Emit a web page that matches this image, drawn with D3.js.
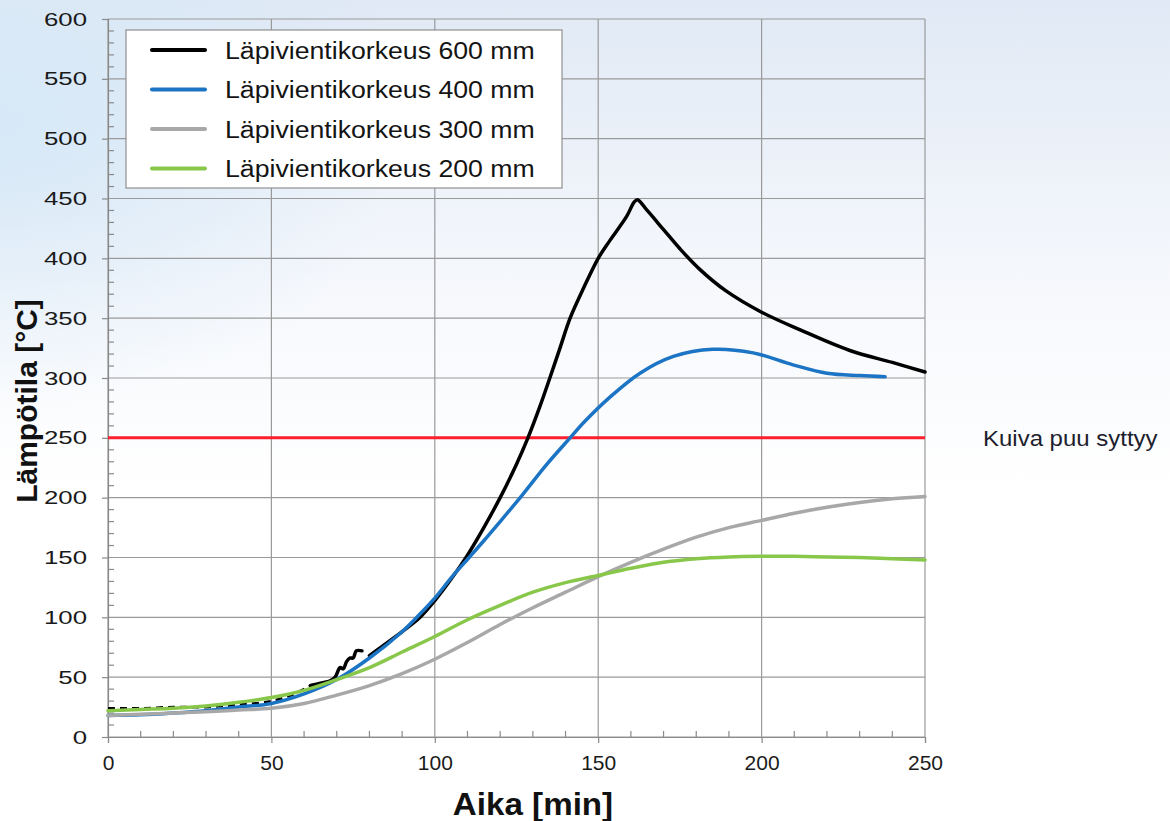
<!DOCTYPE html>
<html><head><meta charset="utf-8">
<script src="https://cdn.jsdelivr.net/npm/d3@7"></script>
<style>body{margin:0;background:#fff}svg{display:block}</style>
</head><body><svg id="c" width="1170" height="821"></svg>
<script>
// ---- data ----
const xTicks = [0, 50, 100, 150, 200, 250];
const yTicks = [0, 50, 100, 150, 200, 250, 300, 350, 400, 450, 500, 550, 600];
const seriesNames = ["Läpivientikorkeus 600 mm", "Läpivientikorkeus 400 mm", "Läpivientikorkeus 300 mm", "Läpivientikorkeus 200 mm"];
const seriesColors = ["#000000", "#1c74c4", "#a8a8a8", "#88c74a"];
// 600 mm (null breaks the line)
const time600 = [0,10,20,30,40,50,57,62,65,68,69.5,71,72,73,74,75,76,77.7,null,80,90,95.5,100,105,110,115,120,125,128.5,132,135.2,138.3,141.4,145.5,150,153.6,158.7,161,162,165,170,175,181,189,200,212,227,240,250];
const temp600 = [24,24,25,25,27,30,36,43,45,47,50,58,57,63,66,66,72,72,null,68,88,100,114,132,152,175,200,228,250,275,300,325,350,375,400,415,435,447,449,440,424,408,391,373,355,340,323,313,305];
const time400 = [0,10,20,30,40,50,60,70,80,90,94.5,100,105,110.5,115,120,127,134,141.4,146,153.6,162.8,173,185,197.4,209.6,220,230,237.8];
const temp400 = [18,18.5,20,22,25,28,36,48,66,88,100,116,133,150,164,180,203,227,250,264,284,304,318,324,321,311,304,302,301];
const time300 = [0,10,20,30,40,50,60,70,80,90,100,110,120,130,140,150,160,170,180,190,200,210,220,230,240,250];
const temp300 = [18,19,20,21,22.5,24,28,35,43,53,65,79,94,108,121,134,146,157,167,175,181,187,192,196,199,201];
const time200 = [0,10,20,30,40,50,60,70,80,90,100,110,120,130,140,150,160,170,180,190,200,210,220,230,240,250];
const temp200 = [22,23,24,26,29,33,39,48,58,71,84,98,110,121,129,135,141,146,149,150.5,151,151,150.5,150,149,148];
const ignitionTemp = 250;
const ignitionLabel = "Kuiva puu syttyy";
const xTitle = "Aika [min]";
const yTitle = "Lämpötila [°C]";

// ---- layout ----
const svg = d3.select("#c");
const L = 108, R = 925, T = 19, B = 737;
const x = d3.scaleLinear().domain([0, 250]).range([L, R]);
const y = d3.scaleLinear().domain([0, 600]).range([B, T]);

// background
const defs = svg.append("defs");
const lg = defs.append("linearGradient").attr("id","bg").attr("x1",0).attr("y1",0).attr("x2",0).attr("y2",1);
lg.append("stop").attr("offset","0").attr("stop-color","#e0e9f5");
lg.append("stop").attr("offset","0.35").attr("stop-color","#f6f8fc");
lg.append("stop").attr("offset","0.6").attr("stop-color","#ffffff");
const rg = defs.append("radialGradient").attr("id","bg2").attr("cx",0).attr("cy",0.15).attr("r",0.35);
rg.append("stop").attr("offset","0").attr("stop-color","#d6e8f7").attr("stop-opacity",1);
rg.append("stop").attr("offset","1").attr("stop-color","#d6e8f7").attr("stop-opacity",0);
svg.append("rect").attr("width",1170).attr("height",821).attr("fill","url(#bg)");
svg.append("rect").attr("width",1170).attr("height",821).attr("fill","url(#bg2)");

const font = "Liberation Sans, Arial, sans-serif";

// grid
const g = svg.append("g");
g.selectAll(".gx").data(xTicks).join("line")
  .attr("x1", d => x(d)).attr("x2", d => x(d)).attr("y1", T).attr("y2", B)
  .attr("stroke", "#9a9a9a").attr("stroke-width", 1.2);
g.selectAll(".gy").data(yTicks).join("line")
  .attr("x1", L).attr("x2", R).attr("y1", d => y(d)).attr("y2", d => y(d))
  .attr("stroke", "#9a9a9a").attr("stroke-width", 1.2);

// axes
const xAxis = d3.axisBottom(x).tickValues(xTicks).tickSize(6).tickPadding(12);
const yAxis = d3.axisLeft(y).tickValues(yTicks).tickSize(6).tickPadding(15);
const gx = svg.append("g").attr("transform", `translate(0,${B})`).call(xAxis);
const gy = svg.append("g").attr("transform", `translate(${L},0)`).call(yAxis);
[gx, gy].forEach(a => {
  a.select(".domain").attr("stroke", "#8a8a8a").attr("stroke-width", 1.2);
  a.selectAll(".tick line").attr("stroke", "#8a8a8a").attr("stroke-width", 1.2);
  a.selectAll(".tick text").attr("font-family", font).attr("fill", "#1a1a1a");
});
gx.selectAll(".tick text").attr("font-size", 21);
const ySx = 1.36;
gy.selectAll(".tick text").attr("font-size", 19)
  .attr("x", -21 / ySx).attr("transform", `scale(${ySx},1)`);

// minor ticks (inward)
const xMinor = d3.range(0, 251, 10).filter(v => v % 50 !== 0);
const yMinor = d3.range(0, 601, 10).filter(v => v % 50 !== 0);
svg.append("g").selectAll("line").data(xMinor).join("line")
  .attr("x1", d => x(d)).attr("x2", d => x(d)).attr("y1", B).attr("y2", B - 6)
  .attr("stroke", "#8a8a8a").attr("stroke-width", 1.2);
svg.append("g").selectAll("line").data(yMinor).join("line")
  .attr("x1", L).attr("x2", L + 6).attr("y1", d => y(d)).attr("y2", d => y(d))
  .attr("stroke", "#8a8a8a").attr("stroke-width", 1.2);

// red ignition line
svg.append("line").attr("x1", x(0)).attr("x2", x(250)).attr("y1", y(ignitionTemp)).attr("y2", y(ignitionTemp))
  .attr("stroke", "#ff1f2e").attr("stroke-width", 3);
svg.append("text").attr("transform", `translate(983,${y(ignitionTemp) + 8}) scale(1.09,1)`).text(ignitionLabel)
  .attr("font-family", font).attr("font-size", 22).attr("fill", "#1e1e2e");

// series
const series = [
  [time600, temp600], [time400, temp400], [time300, temp300], [time200, temp200]
];
const line = d3.line().defined(d => d[0] !== null && d[1] !== null)
  .x(d => x(d[0])).y(d => y(d[1])).curve(d3.curveCatmullRom.alpha(0.5));
series.forEach((s, i) => {
  const pts = s[0].map((t, j) => [t, s[1][j]]);
  if (i === 0) {
    // early, sparsely-logged part of the 600 mm curve looks dashed
    const cut = 7; // index of t = 62
    svg.append("path").datum(pts.slice(0, cut + 1)).attr("d", line)
      .attr("fill", "none").attr("stroke", seriesColors[i]).attr("stroke-width", 2.6)
      .attr("stroke-dasharray", "7,5");
    svg.append("path").datum(pts.slice(cut)).attr("d", line)
      .attr("fill", "none").attr("stroke", seriesColors[i]).attr("stroke-width", 3.5)
      .attr("stroke-linejoin", "round").attr("stroke-linecap", "round");
  } else {
    svg.append("path").datum(pts).attr("d", line)
      .attr("fill", "none").attr("stroke", seriesColors[i]).attr("stroke-width", 3.5)
      .attr("stroke-linejoin", "round").attr("stroke-linecap", "round");
  }
});

// legend
const lgG = svg.append("g");
lgG.append("rect").attr("x", 126).attr("y", 30).attr("width", 436).attr("height", 158)
  .attr("fill", "#fff").attr("stroke", "#8f8f8f").attr("stroke-width", 1.2);
seriesNames.forEach((n, i) => {
  const yy = 50 + i * 39.5;
  lgG.append("line").attr("x1", 152).attr("x2", 205).attr("y1", yy).attr("y2", yy)
    .attr("stroke", seriesColors[i]).attr("stroke-width", 4).attr("stroke-linecap", "round");
  lgG.append("text").attr("transform", `translate(225,${yy + 8.5}) scale(1.16,1)`).text(n)
    .attr("font-family", font).attr("font-size", 23).attr("fill", "#141414");
});

// titles
svg.append("text").attr("transform", "translate(533,815) scale(1.07,1)").attr("text-anchor", "middle").text(xTitle)
  .attr("font-family", font).attr("font-weight", "bold").attr("font-size", 31).attr("fill", "#111");
svg.append("text").attr("transform", "translate(37,401) rotate(-90)").attr("text-anchor", "middle").text(yTitle)
  .attr("font-family", font).attr("font-weight", "bold").attr("font-size", 30).attr("fill", "#111");
</script></body></html>
